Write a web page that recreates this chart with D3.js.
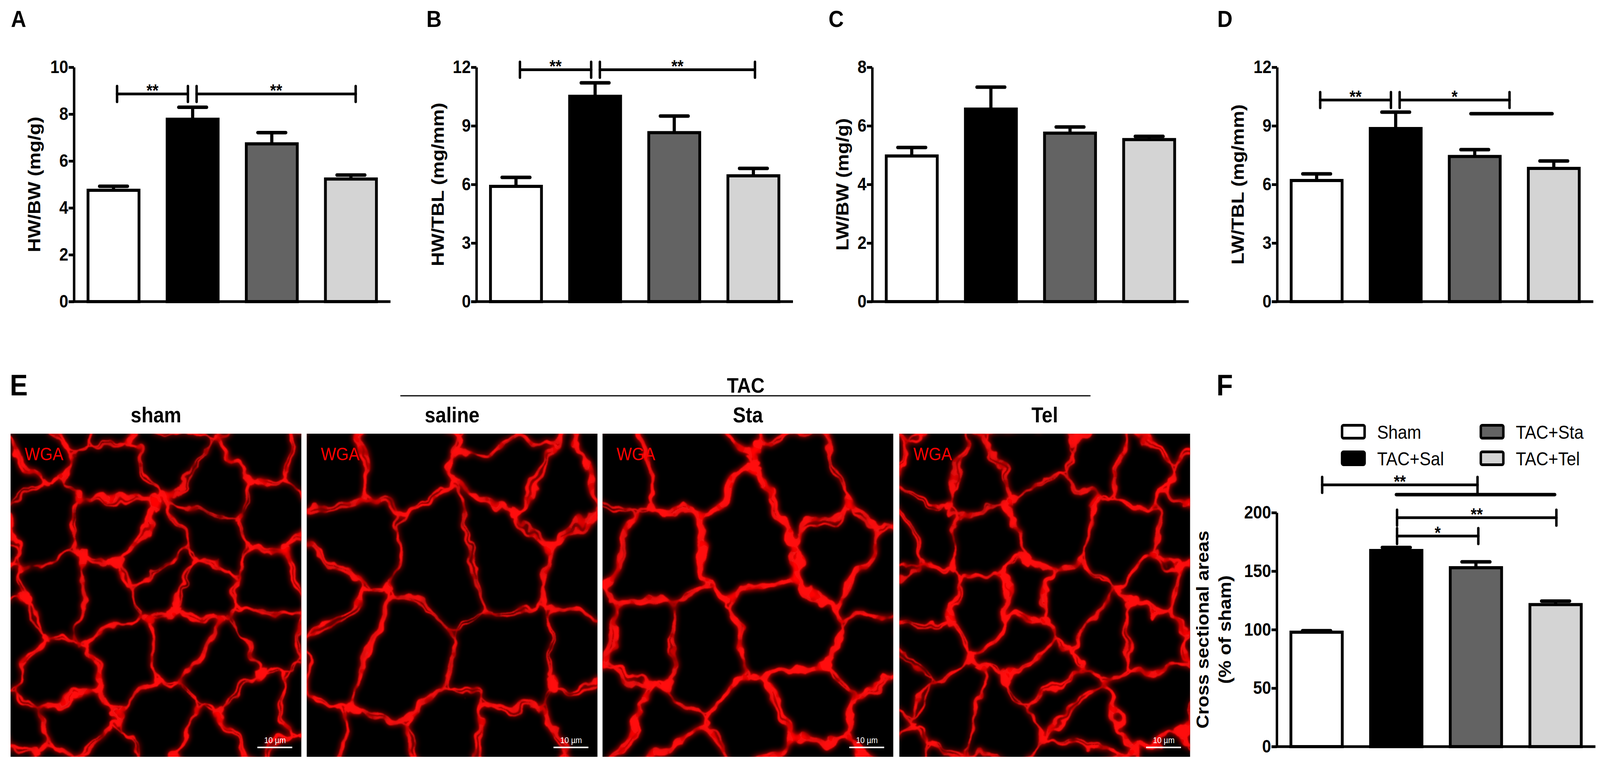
<!DOCTYPE html>
<html><head><meta charset="utf-8">
<script src="https://cdn.jsdelivr.net/npm/d3@7"></script>
<style>
html,body{margin:0;padding:0;background:#fff;overflow:hidden;width:100%;height:100%}
svg{display:block;width:100vw;height:100vh}
text{font-family:"Liberation Sans",Arial,Helvetica,sans-serif}
</style>
</head><body>
<svg id="fig" viewBox="0 0 4544 1958" preserveAspectRatio="none"></svg>
<script>
// ---------------- DATA ----------------
const groups = ["Sham", "TAC+Sal", "TAC+Sta", "TAC+Tel"];
const groupColors = ["#ffffff", "#000000", "#636363", "#d4d4d4"];

const hwbwMean  = [4.75, 7.78, 6.73, 5.23];
const hwbwSem   = [0.17, 0.51, 0.48, 0.17];
const hwtblMean = [5.90, 10.51, 8.65, 6.44];
const hwtblSem  = [0.46, 0.69, 0.85, 0.38];
const lwbwMean  = [4.97, 6.57, 5.75, 5.53];
const lwbwSem   = [0.29, 0.75, 0.21, 0.11];
const lwtblMean = [6.20, 8.86, 7.43, 6.82];
const lwtblSem  = [0.34, 0.84, 0.35, 0.38];
const csaMean   = [97.8, 167.6, 152.9, 121.4];
const csaSem    = [1.3, 2.6, 5.0, 3.0];

const ticksA = [0, 2, 4, 6, 8, 10];
const ticksB = [0, 3, 6, 9, 12];
const ticksC = [0, 2, 4, 6, 8];
const ticksD = [0, 3, 6, 9, 12];
const ticksF = [0, 50, 100, 150, 200];

// significance brackets: from/to in group-index units, level in data units
const sigA = [{from:0.045, to:0.94, level:8.86, label:"**", ticks:true},
              {from:1.05,  to:3.06, level:8.86, label:"**", ticks:true}];
const sigB = [{from:0.05,  to:0.95, level:11.87, label:"**", ticks:true},
              {from:1.06,  to:3.02, level:11.87, label:"**", ticks:true}];
const sigC = [];
const sigD = [{from:0.045, to:0.94, level:10.32, label:"**", ticks:true},
              {from:1.05,  to:2.44, level:10.32, label:"*",  ticks:true},
              {from:1.95,  to:2.98, level:9.62,  label:"",   ticks:false}];
const sigF = [{from:0.07, to:2.02, level:223.7, label:"**", ticks:true},
              {from:1.0,  to:2.99, level:215.4, label:"",   ticks:false},
              {from:1.01, to:3.01, level:195.7, label:"**", ticks:true},
              {from:1.01, to:2.03, level:180.0, label:"*",  ticks:true}];

const micrographLabels = ["sham", "saline", "Sta", "Tel"];

// ---------------- DRAW ----------------
const svg = d3.select("#fig");
svg.append("rect").attr("width", 4544).attr("height", 1958).attr("fill", "#fff");

function barPanel(cfg) {
  const g = svg.append("g");
  const x = d3.scaleBand().domain(groups).range([cfg.x0, cfg.x1])
    .paddingInner(0.32).paddingOuter(0.16);
  const y = d3.scaleLinear().domain([0, cfg.max]).range([cfg.yBot, cfg.yTop]);
  const cx = f => x(groups[0]) + x.bandwidth() / 2 + f * x.step();
  const sw = 8;

  const capW = x.bandwidth() * 0.52;
  groups.forEach((d, i) => {
    const c = x(d) + x.bandwidth() / 2;
    g.append("line").attr("x1", c).attr("x2", c)
      .attr("y1", y(cfg.mean[i])).attr("y2", y(cfg.mean[i] + cfg.sem[i]))
      .attr("stroke", "#000").attr("stroke-width", 9);
    g.append("line").attr("x1", c - capW / 2).attr("x2", c + capW / 2)
      .attr("y1", y(cfg.mean[i] + cfg.sem[i])).attr("y2", y(cfg.mean[i] + cfg.sem[i]))
      .attr("stroke", "#000").attr("stroke-width", 9).attr("stroke-linecap", "round");
  });

  g.selectAll("rect.bar").data(groups).join("rect").attr("class", "bar")
    .attr("x", d => x(d) + sw / 2).attr("width", x.bandwidth() - sw)
    .attr("y", (d, i) => y(cfg.mean[i])).attr("height", (d, i) => y(0) - y(cfg.mean[i]))
    .attr("fill", (d, i) => groupColors[i]).attr("stroke", "#000").attr("stroke-width", sw);

  const ax = g.append("g").attr("transform", `translate(${cfg.x0},0)`)
    .call(d3.axisLeft(y).tickValues(cfg.ticks).tickSize(15).tickSizeOuter(0).tickPadding(1));
  ax.select(".domain").attr("stroke", "#000").attr("stroke-width", 7);
  ax.selectAll(".tick line").attr("stroke", "#000").attr("stroke-width", 7);
  ax.selectAll(".tick text").attr("font-size", 46).attr("font-weight", "bold").attr("fill", "#000");

  g.append("line").attr("x1", cfg.x0 - 15).attr("x2", cfg.x1)
    .attr("y1", y(0)).attr("y2", y(0)).attr("stroke", "#000").attr("stroke-width", 7);

  cfg.sig.forEach(s => {
    const xa = cx(s.from), xb = cx(s.to), yy = y(s.level);
    g.append("line").attr("x1", xa).attr("x2", xb).attr("y1", yy).attr("y2", yy)
      .attr("stroke", "#000").attr("stroke-width", s.ticks ? 7 : 9).attr("stroke-linecap", "round");
    if (s.ticks) {
      [xa, xb].forEach(xx => g.append("line").attr("x1", xx).attr("x2", xx)
        .attr("y1", yy - 20).attr("y2", yy + 20)
        .attr("stroke", "#000").attr("stroke-width", 7).attr("stroke-linecap", "round"));
    }
    if (s.label) {
      g.append("text").attr("x", (xa + xb) / 2).attr("y", yy + 7)
        .attr("text-anchor", "middle").attr("font-size", 44).attr("font-weight", "bold")
        .text(s.label);
    }
  });

  cfg.yLabel.forEach((t, k) => {
    g.append("text")
      .attr("transform", `translate(${cfg.yLabelX[k]},${(cfg.yTop + cfg.yBot) / 2}) rotate(-90)`)
      .attr("text-anchor", "middle").attr("font-size", cfg.yLabelSize || 50)
      .attr("font-weight", "bold").text(t);
  });

  svg.append("text").attr("x", cfg.letterX).attr("y", cfg.letterY)
    .attr("font-size", cfg.letterSize).attr("font-weight", "bold").text(cfg.letter);
  return {x, y};
}

barPanel({x0:210,  x1:1109, yTop:172, yBot:772, max:10, ticks:ticksA, mean:hwbwMean,  sem:hwbwSem,  sig:sigA,
  yLabel:["HW/BW (mg/g)"],   yLabelX:[114],  letter:"A", letterX:31,   letterY:69, letterSize:60});
barPanel({x0:1353, x1:2252, yTop:172, yBot:772, max:12, ticks:ticksB, mean:hwtblMean, sem:hwtblSem, sig:sigB,
  yLabel:["HW/TBL (mg/mm)"], yLabelX:[1260], letter:"B", letterX:1211, letterY:69, letterSize:60});
barPanel({x0:2477, x1:3376, yTop:172, yBot:772, max:8,  ticks:ticksC, mean:lwbwMean,  sem:lwbwSem,  sig:sigC,
  yLabel:["LW/BW (mg/g)"],   yLabelX:[2410], letter:"C", letterX:2353, letterY:69, letterSize:60});
barPanel({x0:3627, x1:4525, yTop:172, yBot:772, max:12, ticks:ticksD, mean:lwtblMean, sem:lwtblSem, sig:sigD,
  yLabel:["LW/TBL (mg/mm)"], yLabelX:[3532], letter:"D", letterX:3457, letterY:69, letterSize:60});
barPanel({x0:3626, x1:4531, yTop:1312, yBot:1911, max:200, ticks:ticksF, mean:csaMean, sem:csaSem, sig:sigF,
  yLabel:["Cross sectional areas", "(% of sham)"], yLabelX:[3432, 3496], yLabelSize:49,
  letter:"F", letterX:3455, letterY:1012, letterSize:76});

const leg = svg.append("g");
groups.forEach((gname, i) => {
  const col = Math.floor(i / 2), row = i % 2;
  const bx = 3808 + col * 394, by = 1085 + row * 68;
  leg.append("rect").attr("x", bx + 3.5).attr("y", by + 3.5).attr("width", 64).attr("height", 33)
    .attr("rx", 4).attr("fill", groupColors[i]).attr("stroke", "#000").attr("stroke-width", 7);
  leg.append("text").attr("x", bx + 103).attr("y", by + 38).attr("font-size", 48).text(gname);
});

// ---------------- E: micrographs ----------------
const defs = svg.append("defs");
const filt = defs.append("filter").attr("id", "mem").attr("x", "-5%").attr("y", "-5%")
  .attr("width", "110%").attr("height", "110%");
filt.append("feTurbulence").attr("type", "fractalNoise").attr("baseFrequency", 0.012)
  .attr("numOctaves", 3).attr("seed", 7).attr("result", "noise");
filt.append("feDisplacementMap").attr("in", "SourceGraphic").attr("in2", "noise")
  .attr("scale", 70).attr("xChannelSelector", "R").attr("yChannelSelector", "G").attr("result", "disp");
filt.append("feTurbulence").attr("type", "fractalNoise").attr("baseFrequency", 0.03)
  .attr("numOctaves", 2).attr("seed", 3).attr("result", "grain");
filt.append("feColorMatrix").attr("in", "grain").attr("type", "matrix")
  .attr("values", "0 0 0 0 0  0 0 0 0 0  0 0 0 0 0  0 0 0 1.9 -0.25").attr("result", "grainA");
filt.append("feComposite").attr("in", "disp").attr("in2", "grainA").attr("operator", "in").attr("result", "mottled");
filt.append("feGaussianBlur").attr("in", "disp").attr("stdDeviation", 8).attr("result", "glow0");
filt.append("feComponentTransfer").attr("in", "glow0").attr("result", "glow")
  .append("feFuncA").attr("type", "linear").attr("slope", 1.3);
filt.append("feGaussianBlur").attr("in", "mottled").attr("stdDeviation", 1.6).attr("result", "core");
const fm = filt.append("feMerge");
fm.append("feMergeNode").attr("in", "glow");
fm.append("feMergeNode").attr("in", "core");
fm.append("feMergeNode").attr("in", "core");

const texCell = [165, 215, 210, 160];
const texStroke = [5.5, 7, 8, 5.5];
function hash(n) { const s = Math.sin(n * 12.9898 + 78.233) * 43758.5453; return s - Math.floor(s); }

const imgW = 826, imgH = 827, imgTop = 1110;
const imgLeft = [30, 871, 1711, 2554];
const lineGen = d3.line().curve(d3.curveCardinalClosed.tension(0.2));

micrographLabels.forEach((lab, k) => {
  const x0 = imgLeft[k], y0 = imgTop;
  const cp = defs.append("clipPath").attr("id", "clip" + k);
  cp.append("rect").attr("x", x0).attr("y", y0).attr("width", imgW).attr("height", imgH);
  const g = svg.append("g").attr("clip-path", `url(#clip${k})`);
  g.append("rect").attr("x", x0).attr("y", y0).attr("width", imgW).attr("height", imgH).attr("fill", "#000");

  const c = texCell[k];
  const pts = [];
  const nx = Math.ceil(imgW / c) + 2, ny = Math.ceil(imgH / c) + 2;
  for (let i = -1; i < nx; i++) for (let j = -1; j < ny; j++) {
    const id = k * 1000 + i * 37 + j * 101;
    pts.push([x0 + (i + 0.5) * c + (hash(id) - 0.5) * c * 0.85 + (j % 2) * c * 0.3,
              y0 + (j + 0.5) * c + (hash(id + 17.3) - 0.5) * c * 0.85]);
  }
  const del = d3.Delaunay.from(pts);
  const vor = del.voronoi([x0 - 200, y0 - 200, x0 + imgW + 200, y0 + imgH + 200]);
  const tg = g.append("g").attr("filter", "url(#mem)");
  let idx = 0;
  for (const poly of vor.cellPolygons()) {
    const p = poly.slice(0, -1);
    const ctr = d3.polygonCentroid(p);
    const inset = p.map(q => [ctr[0] + (q[0] - ctr[0]) * 0.95, ctr[1] + (q[1] - ctr[1]) * 0.95]);
    tg.append("path").attr("d", lineGen(inset)).attr("fill", "none")
      .attr("stroke", "#ff1010").attr("stroke-width", texStroke[k] * (0.6 + 0.8 * hash(idx + k * 50)))
      .attr("stroke-opacity", 0.6 + 0.4 * hash(idx * 2.3 + k));
    idx++;
  }
  const cc = vor.circumcenters;
  for (let t = 0; t < cc.length / 2; t++) {
    if (hash(t * 3.1 + k) < 0.45) {
      tg.append("circle").attr("cx", cc[2 * t]).attr("cy", cc[2 * t + 1])
        .attr("r", 7 + 11 * hash(t + 0.7 + k)).attr("fill", "#ff1010").attr("fill-opacity", 0.8);
    }
  }

  svg.append("text").attr("x", x0 + 40).attr("y", y0 + 68).attr("font-size", 46)
    .attr("fill", "#ff0000").text("WGA");
  svg.append("line").attr("x1", x0 + imgW - 125).attr("x2", x0 + imgW - 26)
    .attr("y1", y0 + imgH - 24).attr("y2", y0 + imgH - 24).attr("stroke", "#fff").attr("stroke-width", 4);
  svg.append("text").attr("x", x0 + imgW - 75).attr("y", y0 + imgH - 35).attr("text-anchor", "middle")
    .attr("font-size", 22).attr("fill", "#fff").text("10 µm");

  svg.append("text").attr("x", x0 + imgW / 2).attr("y", 1081).attr("text-anchor", "middle")
    .attr("font-size", 55).attr("font-weight", "bold").text(lab);
});

svg.append("line").attr("x1", 1137).attr("x2", 3097).attr("y1", 1013).attr("y2", 1013)
  .attr("stroke", "#000").attr("stroke-width", 3);
svg.append("text").attr("x", 2118).attr("y", 1005).attr("text-anchor", "middle")
  .attr("font-size", 54).attr("font-weight", "bold").text("TAC");
svg.append("text").attr("x", 28).attr("y", 1012).attr("font-size", 76).attr("font-weight", "bold").text("E");
</script>
</body></html>
